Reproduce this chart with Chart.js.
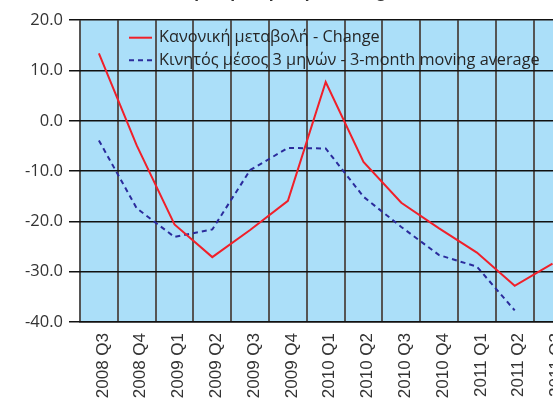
<!DOCTYPE html>
<html>
<head>
<meta charset="utf-8">
<script src="https://cdn.jsdelivr.net/npm/chart.js@4.4.1/dist/chart.umd.min.js"></script>
<style>
  html, body { margin: 0; padding: 0; background: #fff; overflow: hidden; }
  body { width: 553px; height: 400px; position: relative; }
  #chartWrap { position: absolute; left: 0; top: -17px; width: 590px; height: 443px; }
</style>
</head>
<body>
<div id="chartWrap"><canvas id="changeChart" width="590" height="443"></canvas></div>
<script>
// Quarterly data
var quarters = ['2008 Q3', '2008 Q4', '2009 Q1', '2009 Q2', '2009 Q3', '2009 Q4',
                '2010 Q1', '2010 Q2', '2010 Q3', '2010 Q4', '2011 Q1', '2011 Q2', '2011 Q3'];
var changeValues = [13.4, -4.9, -20.6, -27.1, -21.7, -15.9, 7.7, -8.2, -16.3, -21.4, -26.2, -32.8, -28.4];
var movingAvgValues = [-3.9, -17.4, -23.1, -21.6, -9.8, -5.4, -5.5, -15.1, -21.1, -26.7, -29.0, -37.7, null];
var seriesNames = ['Κανονική μεταβολή - Change', 'Κινητός μέσος 3 μηνών - 3-month moving average'];
var yTicks = [20, 10, 0, -10, -20, -30, -40];

// light blue plot background
var plotBackground = {
    id: 'plotBackground',
    beforeDraw: function(chart) {
        var a = chart.chartArea, ctx = chart.ctx;
        ctx.save();
        ctx.fillStyle = '#abdff9';
        ctx.fillRect(a.left, a.top, a.right - a.left, a.bottom - a.top);
        ctx.restore();
    }
};

// legend drawn inside the plot, top left
var insideLegend = {
    id: 'insideLegend',
    afterDatasetsDraw: function(chart) {
        var a = chart.chartArea, ctx = chart.ctx;
        ctx.save();
        ctx.font = '16.3px "Open Sans"';
        ctx.textBaseline = 'middle';
        chart.data.datasets.forEach(function(ds, i) {
            var y = a.top + 17.5 + i * 22.5;
            var x = a.left + 49;
            ctx.strokeStyle = ds.borderColor;
            ctx.lineWidth = 2;
            ctx.setLineDash(ds.borderDash || []);
            ctx.beginPath();
            ctx.moveTo(x, y);
            ctx.lineTo(x + 23, y);
            ctx.stroke();
            ctx.setLineDash([]);
            ctx.fillStyle = '#262626';
            ctx.fillText(ds.label, x + 30, y);
        });
        ctx.restore();
    }
};

var ctx = document.getElementById('changeChart').getContext('2d');
new Chart(ctx, {
    type: 'line',
    data: {
        labels: quarters,
        datasets: [{
            label: seriesNames[0],
            data: changeValues,
            borderColor: '#f0202a',
            borderWidth: 2,
            pointRadius: 0,
            tension: 0,
            fill: false
        }, {
            label: seriesNames[1],
            data: movingAvgValues,
            borderColor: '#2b2b9c',
            borderWidth: 2,
            borderDash: [5, 4],
            pointRadius: 0,
            tension: 0,
            fill: false
        }]
    },
    options: {
        responsive: false,
        animation: false,
        layout: { padding: { left: 0, right: 18.6, top: 0, bottom: 0 } },
        scales: {
            x: {
                offset: true,
                afterFit: function(scale) { scale.height = 104; },
                grid: { offset: true, color: '#555', lineWidth: 2, drawTicks: false },
                border: { color: '#111', width: 1.5 },
                ticks: {
                    autoSkip: false,
                    minRotation: 90,
                    maxRotation: 90,
                    padding: 11,
                    labelOffset: 4,
                    color: '#333',
                    font: { family: '"Liberation Sans"', size: 17 }
                }
            },
            y: {
                min: -40,
                max: 20,
                afterFit: function(scale) { scale.width = 80; },
                afterBuildTicks: function(scale) {
                    scale.ticks = yTicks.map(function(v) { return { value: v }; });
                },
                grid: { color: '#111', lineWidth: 1.5, tickLength: 11, tickColor: '#111' },
                border: { display: false },
                ticks: {
                    padding: 6,
                    color: '#333',
                    font: { family: '"Open Sans"', size: 16.5 },
                    callback: function(v) { return v.toFixed(1); }
                }
            }
        },
        plugins: {
            legend: { display: false },
            tooltip: { enabled: false },
            title: {
                display: true,
                text: 'Ετήσια μεταβολή (% change)',
                color: '#333',
                font: { family: '"Open Sans"', size: 16, weight: 'bold' },
                padding: { top: 0, bottom: 18 }
            }
        }
    },
    plugins: [plotBackground, insideLegend]
});
</script>
</body>
</html>
